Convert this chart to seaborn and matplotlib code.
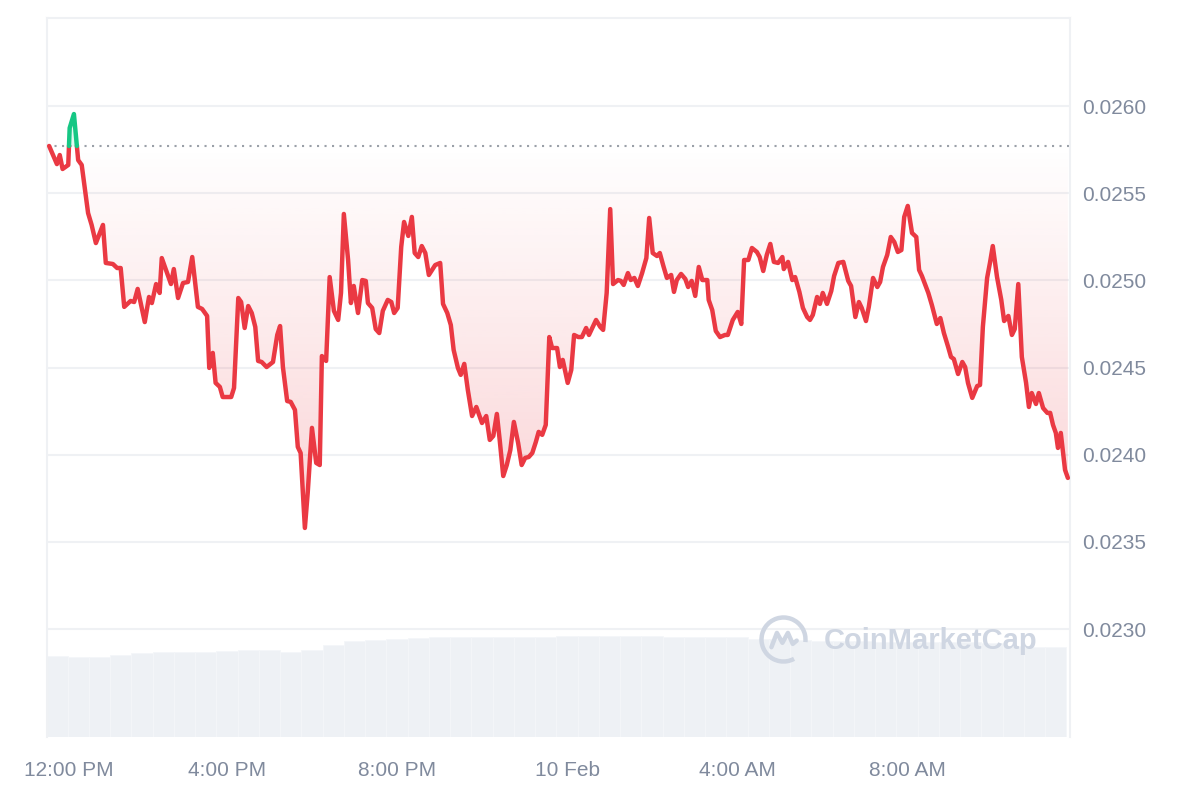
import numpy as np
import pandas as pd
import seaborn as sns
import matplotlib.pyplot as plt
from matplotlib.patches import PathPatch, Arc
from matplotlib.transforms import ScaledTranslation

# minutes after 12:00 PM (9 Feb) and price in USD
minutes = [-11, 0, 4, 8, 16, 18, 24, 30, 35, 44, 49, 55, 65, 69, 79, 85, 90, 95, 104, 109,
           114, 124, 130, 134, 140, 145, 148, 161, 165, 171, 178, 185, 191, 199, 205, 212, 215, 220, 224, 230,
           234, 246, 250, 256, 260, 265, 270, 275, 280, 284, 289, 296, 305, 311, 315, 319, 325, 330, 336, 340,
           344, 350, 354, 360, 366, 371, 374, 380, 385, 391, 397, 401, 405, 411, 415, 419, 425, 431, 436, 439,
           445, 450, 455, 460, 467, 472, 476, 481, 486, 490, 496, 501, 505, 510, 515, 520, 525, 534, 541, 545,
           551, 556, 560, 566, 570, 575, 580, 586, 592, 596, 600, 606, 611, 616, 621, 625, 630, 635, 640, 645,
           651, 656, 661, 666, 671, 676, 680, 685, 690, 695, 699, 706, 710, 714, 721, 726, 730, 736, 741, 747,
           751, 761, 767, 771, 776, 781, 785, 792, 796, 800, 806, 810, 815, 820, 826, 832, 836, 841, 847, 851,
           856, 861, 867, 871, 875, 881, 887, 891, 896, 901, 906, 911, 918, 920, 925, 930, 936, 943, 947, 954,
           961, 966, 970, 976, 981, 988, 992, 997, 1002, 1007, 1012, 1018, 1024, 1026, 1032, 1038, 1042, 1048, 1053, 1059,
           1063, 1067, 1073, 1077, 1081, 1087, 1093, 1097, 1103, 1110, 1117, 1121, 1127, 1132, 1136, 1142, 1146, 1152, 1158, 1162,
           1166, 1172, 1177, 1182, 1187, 1192, 1196, 1201, 1207, 1213, 1217, 1221, 1230, 1235, 1242, 1247, 1252, 1258, 1262, 1266,
           1272, 1278, 1282, 1286, 1292, 1299, 1303, 1307, 1313, 1317, 1321, 1327, 1333, 1337, 1343, 1348, 1352, 1357, 1362, 1368,
           1372, 1376, 1382, 1386, 1392, 1398, 1402, 1406, 1410, 1413, 1417, 1423, 1427]

price = [0.025771, 0.025667, 0.025719, 0.025639, 0.025662, 0.025874, 0.025954, 0.025690, 0.025662, 0.025386,
         0.025318, 0.025214, 0.025318, 0.025100, 0.025094, 0.025071, 0.025071, 0.024848, 0.024882, 0.024876,
         0.024951, 0.024761, 0.024905, 0.024870, 0.024979, 0.024928, 0.025128, 0.024979, 0.025065, 0.024899,
         0.024985, 0.024991, 0.025134, 0.024848, 0.024836, 0.024796, 0.024498, 0.024584, 0.024412, 0.024389,
         0.024331, 0.024331, 0.024383, 0.024899, 0.024876, 0.024727, 0.024853, 0.024813, 0.024733, 0.024538,
         0.024532, 0.024503, 0.024532, 0.024687, 0.024738, 0.024503, 0.024308, 0.024303, 0.024257, 0.024045,
         0.024010, 0.023580, 0.023781, 0.024154, 0.023953, 0.023941, 0.024566, 0.024538, 0.025019, 0.024825,
         0.024773, 0.024928, 0.025381, 0.025117, 0.024870, 0.024968, 0.024813, 0.025002, 0.024997, 0.024870,
         0.024842, 0.024721, 0.024698, 0.024825, 0.024888, 0.024876, 0.024813, 0.024842, 0.025192, 0.025335,
         0.025255, 0.025364, 0.025157, 0.025134, 0.025197, 0.025157, 0.025031, 0.025088, 0.025100, 0.024865,
         0.024813, 0.024744, 0.024601, 0.024498, 0.024458, 0.024521, 0.024372, 0.024222, 0.024274, 0.024228,
         0.024182, 0.024222, 0.024085, 0.024108, 0.024234, 0.024085, 0.023878, 0.023941, 0.024027, 0.024188,
         0.024068, 0.023941, 0.023982, 0.023987, 0.024010, 0.024073, 0.024131, 0.024114, 0.024171, 0.024675,
         0.024612, 0.024612, 0.024503, 0.024544, 0.024412, 0.024486, 0.024687, 0.024675, 0.024675, 0.024727,
         0.024687, 0.024773, 0.024733, 0.024716, 0.024928, 0.025409, 0.024979, 0.025002, 0.024997, 0.024974,
         0.025042, 0.025002, 0.025014, 0.024968, 0.025042, 0.025128, 0.025358, 0.025157, 0.025140, 0.025157,
         0.025083, 0.025014, 0.025031, 0.024934, 0.025002, 0.025037, 0.025008, 0.024962, 0.024997, 0.024911,
         0.025077, 0.025002, 0.025002, 0.024888, 0.024830, 0.024710, 0.024675, 0.024687, 0.024687, 0.024773,
         0.024819, 0.024750, 0.025117, 0.025117, 0.025186, 0.025163, 0.025134, 0.025054, 0.025146, 0.025209,
         0.025106, 0.025100, 0.025134, 0.025065, 0.025106, 0.025002, 0.025019, 0.024934, 0.024842, 0.024790,
         0.024773, 0.024802, 0.024905, 0.024865, 0.024928, 0.024865, 0.024939, 0.025025, 0.025100, 0.025106,
         0.024997, 0.024968, 0.024790, 0.024876, 0.024842, 0.024767, 0.024848, 0.025014, 0.024962, 0.024991,
         0.025077, 0.025146, 0.025249, 0.025220, 0.025163, 0.025174, 0.025364, 0.025427, 0.025272, 0.025249,
         0.025060, 0.025025, 0.024928, 0.024859, 0.024750, 0.024784, 0.024698, 0.024618, 0.024561, 0.024549,
         0.024463, 0.024532, 0.024503, 0.024412, 0.024326, 0.024394, 0.024400, 0.024733, 0.025014, 0.025100,
         0.025197, 0.025019, 0.024888, 0.024767, 0.024796, 0.024687, 0.024721, 0.024979, 0.024561, 0.024412,
         0.024274, 0.024354, 0.024291, 0.024354, 0.024268, 0.024240, 0.024240, 0.024171, 0.024125, 0.024039,
         0.024125, 0.023913, 0.023867]

# relative volume, one bar per 30 minutes
volume = [81, 80, 80, 82, 84, 85, 85, 85, 86, 87, 87, 85, 87, 92, 96, 97, 98, 99, 100, 100,
          100, 100, 100, 100, 101, 101, 101, 101, 101, 100, 100, 100, 100, 98, 98, 97, 96, 96, 96, 95,
          95, 95, 95, 95, 94, 91, 90, 90]

tick_minutes = [0, 240, 480, 720, 960, 1200]
tick_labels = ['12:00 PM', '4:00 PM', '8:00 PM', '10 Feb', '4:00 AM', '8:00 AM']
price_ticks = [0.0230, 0.0235, 0.0240, 0.0245, 0.0250, 0.0255, 0.0260]

assert len(minutes) == len(price), (len(minutes), len(price))

RED = '#ea3943'
GREEN = '#16c784'
GREY_TXT = '#808a9d'
GRID = '#eff1f4'

sns.set_style('white')
plt.rcParams['font.family'] = ['Liberation Sans', 'DejaVu Sans']

t = np.array(minutes, dtype=float)
p = np.array(price)
base = p[0]

# add baseline crossings so the colour can switch exactly at the dotted line
xs, ys = [t[0]], [p[0]]
for i in range(1, len(t)):
    a, b = p[i - 1] - base, p[i] - base
    if a * b < 0:
        f = a / (a - b)
        xs.append(t[i - 1] + f * (t[i] - t[i - 1]))
        ys.append(base)
    xs.append(t[i])
    ys.append(p[i])
xs, ys = np.array(xs), np.array(ys)

rows = []
seg, prev = 0, None
for k in range(len(xs) - 1):
    side = 'up' if (ys[k] + ys[k + 1]) / 2 >= base else 'down'
    if side != prev:
        seg += 1
        prev = side
        rows.append((seg, side, xs[k], ys[k]))
    rows.append((seg, side, xs[k + 1], ys[k + 1]))
df = pd.DataFrame(rows, columns=['seg', 'side', 't', 'price'])

fig = plt.figure(figsize=(12, 8), dpi=100)
ax = fig.add_axes([47 / 1200, 63 / 800, 1023 / 1200, 719 / 800])
ax2 = ax.twinx()
ax.set_zorder(2)
ax.patch.set_visible(False)
ax2.set_zorder(1)

# volume bars
vol_t = np.arange(len(volume)) * 30
ax2.bar(vol_t, volume, width=30, color='#eef1f5', edgecolor='#f4f6f9', linewidth=0.6)
ax2.set_ylim(0, max(volume) * 7.12)
ax2.set_yticks([])
for s in ax2.spines.values():
    s.set_visible(False)

ylo, yhi = 0.022381, 0.026505

# gradient fill between baseline and line (below)
poly = ax.fill_between(xs, np.minimum(ys, base), base, color='none', linewidth=0)
clip = PathPatch(poly.get_paths()[0], transform=ax.transData, facecolor='none', edgecolor='none')
ax.add_patch(clip)
yy = np.linspace(ylo, base, 300)
alpha = np.clip((base - yy) / 0.001 * 0.1, 0, 0.3)
grad = np.zeros((len(yy), 1, 4))
grad[:, 0, :3] = np.array([234, 57, 67]) / 255
grad[:, 0, 3] = alpha
im = ax.imshow(grad, extent=[xs[0], xs[-1], ylo, base], origin='lower', aspect='auto', zorder=1)
im.set_clip_path(clip)

# above baseline
ax.fill_between(xs, base, np.maximum(ys, base), color=GREEN, alpha=0.12, linewidth=0, zorder=1)

ax.axhline(base, color='#9aa0a8', linestyle=(0, (1, 2.6)), linewidth=1.5, zorder=2)

sns.lineplot(data=df, x='t', y='price', hue='side', units='seg', estimator=None, sort=False,
             palette={'up': GREEN, 'down': RED}, linewidth=3.2, legend=False, ax=ax, zorder=3)

ax.set_xlim(-14, 1430)
ax.set_ylim(ylo, yhi)
ax.set_xlabel('')
ax.set_ylabel('')

ax.yaxis.tick_right()
ax.set_yticks(price_ticks)
ax.set_yticklabels([f'{v:.4f}' for v in price_ticks])
ax.set_xticks(tick_minutes)
ax.set_xticklabels(tick_labels)
ax.tick_params(axis='both', length=0, labelsize=15, colors=GREY_TXT)
ax.tick_params(axis='y', pad=9)
ax.tick_params(axis='x', pad=17)
ax.xaxis.get_majorticklabels()[0].set_transform(
    ax.xaxis.get_majorticklabels()[0].get_transform() + ScaledTranslation(0.115, 0, fig.dpi_scale_trans))

ax.grid(axis='y', color=GRID, linewidth=1.5)
ax.grid(axis='x', visible=False)
for name, s in ax.spines.items():
    s.set_color(GRID)
    s.set_linewidth(1.5)
ax.spines['bottom'].set_visible(False)

# watermark
wm = '#cfd6e2'
ax.text(0.864, 0.134, 'CoinMarketCap', transform=ax.transAxes, ha='center', va='center',
        fontsize=21, fontweight='bold', color=wm, zorder=4)
cx, cy = 783.5 / 1200, 1 - 639.5 / 800
fig.add_artist(Arc((cx, cy), 44 / 1200, 44 / 800, theta1=-10, theta2=290,
                   transform=fig.transFigure, color=wm, linewidth=3.2, zorder=10))
r = 22
mx = [-0.55, -0.3, -0.05, 0.2, 0.42, 0.6]
my = [-0.35, 0.3, -0.15, 0.3, -0.2, -0.05]
fig.add_artist(plt.Line2D([cx + v * r / 1200 for v in mx], [cy + v * r / 800 for v in my],
                          transform=fig.transFigure, color=wm, linewidth=3.2, zorder=10,
                          solid_joinstyle='round', solid_capstyle='round'))

fig.savefig('out.png', dpi=100, facecolor='white')
